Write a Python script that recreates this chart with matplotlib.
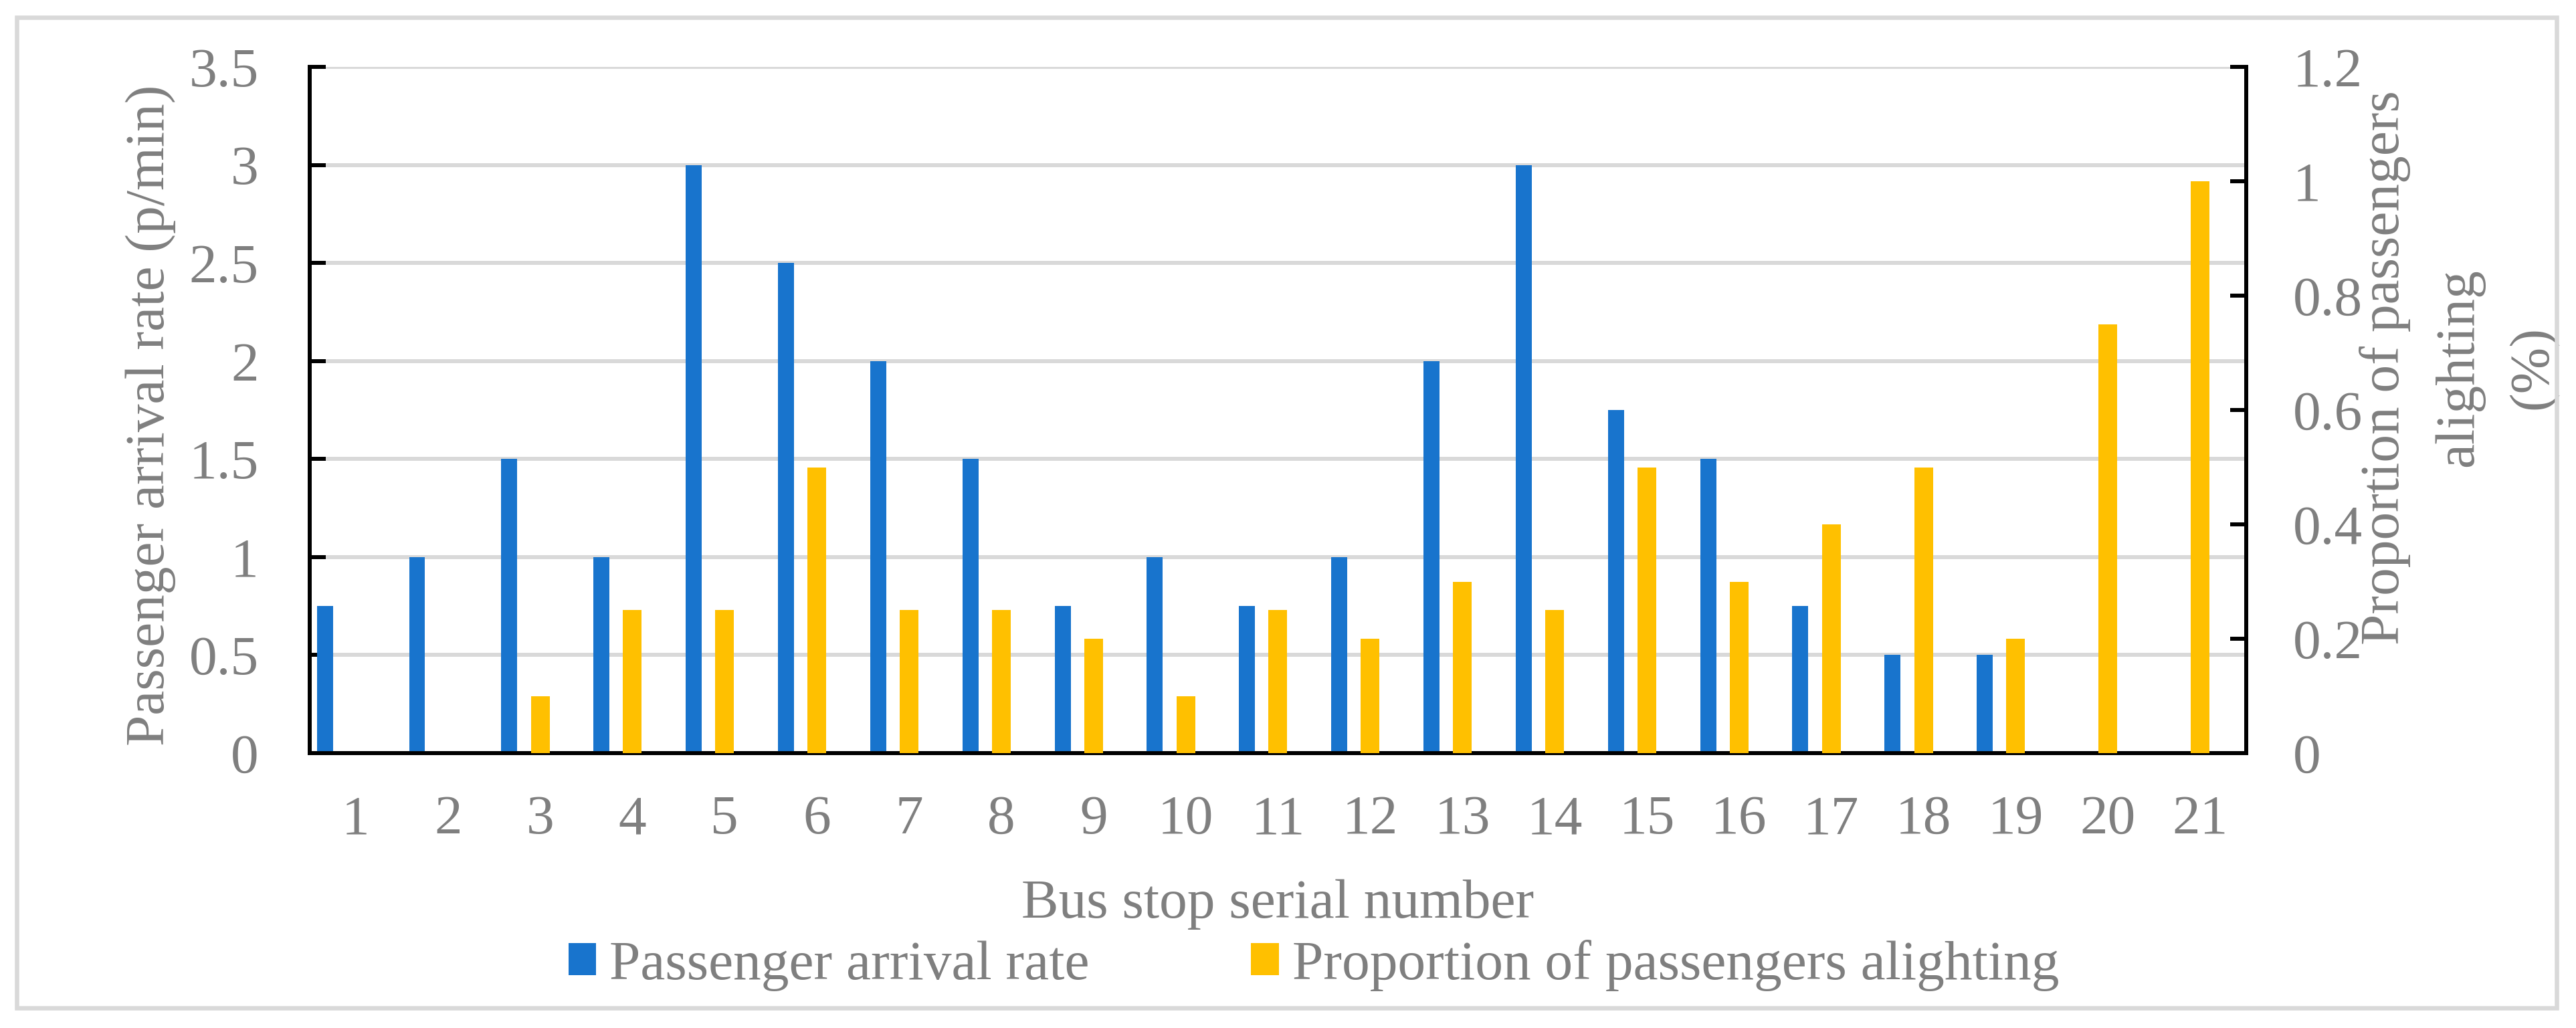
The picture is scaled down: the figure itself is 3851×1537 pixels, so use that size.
import numpy as np
import matplotlib.pyplot as plt
from matplotlib.patches import Rectangle
from matplotlib.ticker import FuncFormatter

# data
stops = list(range(1, 22))
arrival = [0.75, 1, 1.5, 1, 3, 2.5, 2, 1.5, 0.75, 1, 0.75, 1, 2, 3, 1.75, 1.5, 0.75, 0.5, 0.5, 0, 0]
alighting = [0, 0, 0.1, 0.25, 0.25, 0.5, 0.25, 0.25, 0.2, 0.1, 0.25, 0.2, 0.3, 0.25, 0.5, 0.3, 0.4, 0.5, 0.2, 0.75, 1.0]
left_ticks = [0, 0.5, 1, 1.5, 2, 2.5, 3, 3.5]
right_ticks = [0, 0.2, 0.4, 0.6, 0.8, 1.0, 1.2]

blue = '#1874CD'
yellow = '#FFC000'
gray = '#7f7f7f'
grid_c = '#d9d9d9'

plt.rcParams['font.family'] = ['Liberation Serif', 'DejaVu Serif']
plt.rcParams['font.size'] = 60

fig = plt.figure(figsize=(38.51, 15.37), dpi=100)
ax = fig.add_axes([0.1202, 0.2674, 0.7518, 0.6675])
ax2 = ax.twinx()

x = np.array(stops)
b1 = ax.bar(x - 0.335, arrival, width=0.174, color=blue, zorder=3,
            label='Passenger arrival rate')
b2 = ax2.bar(x, alighting, width=0.203, color=yellow, zorder=3,
             label='Proportion of passengers alighting')

ax.set_xlim(0.5, 21.5)
ax.set_ylim(0, 3.5)
ax2.set_ylim(0, 1.2)
ax.set_xticks(stops)
ax.set_yticks(left_ticks)
ax2.set_yticks(right_ticks)
fmt = FuncFormatter(lambda v, p: '%g' % v)
ax.yaxis.set_major_formatter(fmt)
ax2.yaxis.set_major_formatter(fmt)

ax.yaxis.grid(True, color=grid_c, linewidth=4.3, zorder=0)
ax.set_axisbelow(True)

for a in (ax, ax2):
    a.spines['top'].set_visible(False)
    for s in ('left', 'right', 'bottom'):
        a.spines[s].set_linewidth(4.2)
        a.spines[s].set_color('black')

ax.tick_params(axis='x', length=0, pad=45, labelcolor=gray)
ax.tick_params(axis='y', direction='in', length=17, width=4.3, pad=55, labelcolor=gray)
ax2.tick_params(axis='y', direction='in', length=17, width=4.3, pad=50, labelcolor=gray)

ax.set_xlabel('Bus stop serial number', color=gray)
ax.xaxis.set_label_coords(0.5, -0.184)
ax.set_ylabel('Passenger arrival rate (p/min)', color=gray, ha='center', va='center')
ax.yaxis.set_label_coords(-0.082, 0.492)
ax2.set_ylabel('Proportion of passengers\nalighting\n(%)', color=gray,
               ha='center', va='center', multialignment='center', linespacing=1.6)
ax2.yaxis.set_label_coords(1.1098, 0.562)

leg = fig.legend(handles=[b1, b2], loc='center', bbox_to_anchor=(0.51, 0.061),
                 ncol=2, frameon=False, handlelength=0.5, handleheight=0.52,
                 handletextpad=0.24, columnspacing=2.9, borderpad=0)
for t in leg.get_texts():
    t.set_color(gray)

# outer frame
fig.patches.append(Rectangle((25 / 3851, 1 - 1507 / 1537), (3822 - 25) / 3851, (1507 - 26) / 1537,
                             transform=fig.transFigure, fill=False, edgecolor=grid_c, linewidth=4.7))

fig.savefig('out.png', dpi=100)
